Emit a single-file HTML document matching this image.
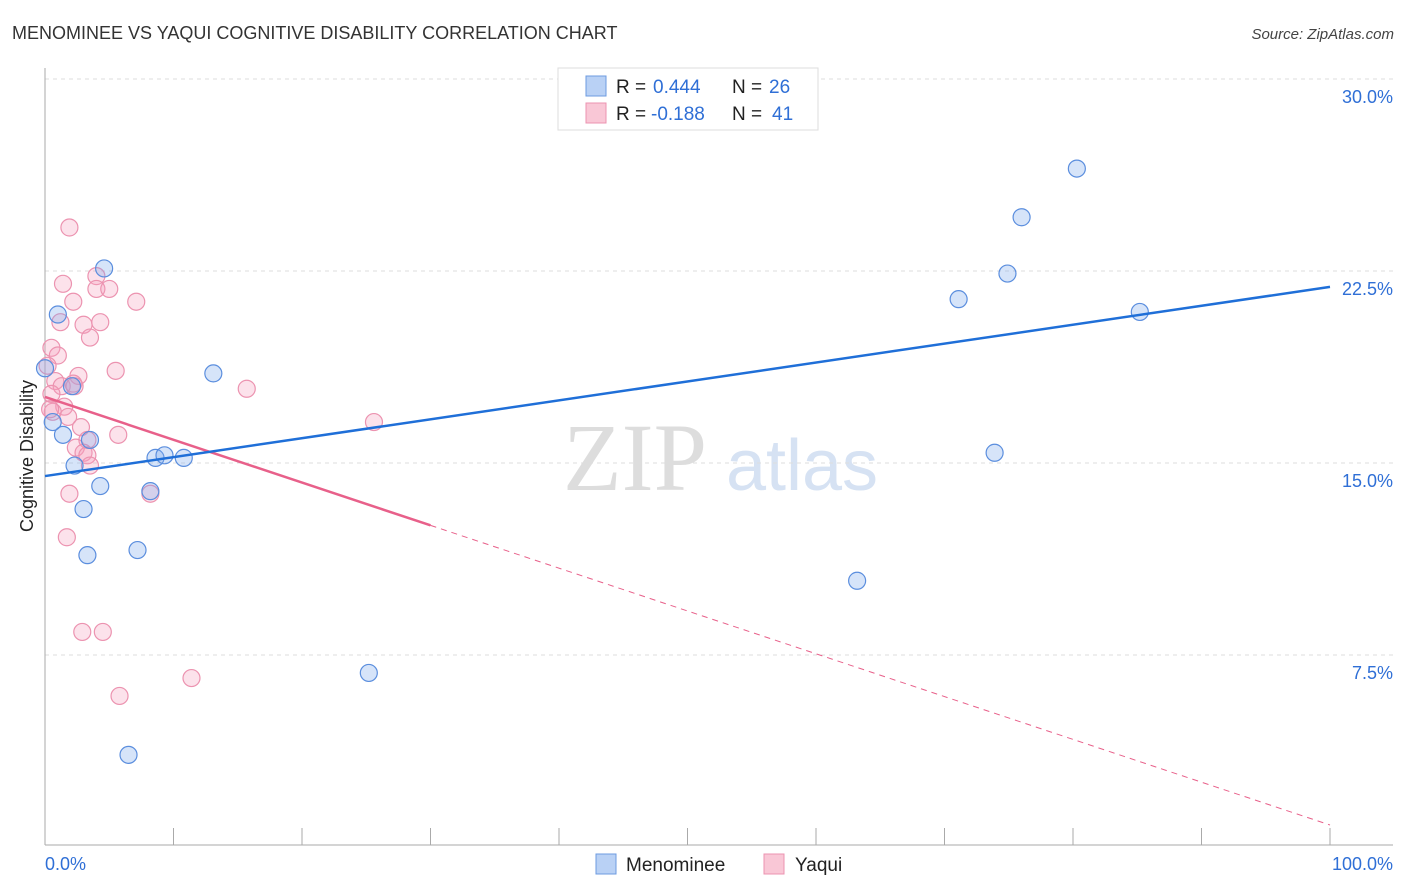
<!DOCTYPE html>
<html><head><meta charset="utf-8"><style>
body{margin:0;background:#fff;font-family:"Liberation Sans",sans-serif;}
svg{display:block}
</style></head><body>
<svg id="c" width="1406" height="892" xmlns="http://www.w3.org/2000/svg">
<text x="12" y="39" font-size="18" fill="#333">MENOMINEE VS YAQUI COGNITIVE DISABILITY CORRELATION CHART</text>
<text x="1394" y="39" font-size="15" fill="#444" font-style="italic" text-anchor="end">Source: ZipAtlas.com</text>
<text x="33" y="456" font-size="18" fill="#222" text-anchor="middle" transform="rotate(-90 33 456)">Cognitive Disability</text>
<g><text x="635" y="490" font-size="96" fill="#ddd" text-anchor="middle" font-family="Liberation Serif,serif">ZIP</text><text x="802" y="490" font-size="72" fill="#d6e2f3" text-anchor="middle">atlas</text></g>
<g id="grid"></g><g id="axes"></g><g id="marks"></g>
<g>
<rect x="558" y="68" width="260" height="62" fill="#fff" stroke="#ddd"/>
<rect x="586" y="76" width="20" height="20" fill="#b9d1f5" stroke="#6d9be0"/>
<rect x="586" y="103" width="20" height="20" fill="#f9c7d6" stroke="#ec93b0"/>
<text x="616" y="93" font-size="19" fill="#222">R =</text><text x="653" y="93" font-size="19" fill="#2f6fd6">0.444</text>
<text x="732" y="93" font-size="19" fill="#222">N =</text><text x="769" y="93" font-size="19" fill="#2f6fd6">26</text>
<text x="616" y="120" font-size="19" fill="#222">R =</text><text x="651" y="120" font-size="19" fill="#2f6fd6">-0.188</text>
<text x="732" y="120" font-size="19" fill="#222">N =</text><text x="772" y="120" font-size="19" fill="#2f6fd6">41</text>
</g>
<g>
<rect x="596" y="854" width="20" height="20" fill="#b9d1f5" stroke="#6d9be0"/>
<text x="626" y="871" font-size="19" fill="#222">Menominee</text>
<rect x="764" y="854" width="20" height="20" fill="#f9c7d6" stroke="#ec93b0"/>
<text x="795" y="871" font-size="19" fill="#222">Yaqui</text>
</g>
</svg>
<script>
const blueX=[4.6,1.0,0.0,2.1,0.6,1.4,3.5,2.3,4.3,3.0,3.3,7.2,8.6,9.3,10.8,8.2,13.1,6.5,25.2,63.2,71.1,73.9,74.9,76.0,80.3,85.2];
const blueY=[22.6,20.8,18.7,18.0,16.6,16.1,15.9,14.9,14.1,13.2,11.4,11.6,15.2,15.3,15.2,13.9,18.5,3.6,6.8,10.4,21.4,15.4,22.4,24.6,26.5,20.9];
const pinkX=[1.9,1.4,4.0,2.2,4.0,5.0,7.1,1.2,3.0,4.3,3.5,0.5,1.0,5.5,15.7,2.6,0.8,1.3,2.2,0.5,1.5,0.6,1.8,2.8,5.7,25.6,3.3,2.4,3.0,3.3,3.5,1.9,8.2,1.7,2.9,4.5,11.4,5.8,0.2,0.4,2.3];
const pinkY=[24.2,22.0,22.3,21.3,21.8,21.8,21.3,20.5,20.4,20.5,19.9,19.5,19.2,18.6,17.9,18.4,18.2,18.0,18.1,17.7,17.2,17.0,16.8,16.4,16.1,16.6,15.9,15.6,15.4,15.3,14.9,13.8,13.8,12.1,8.4,8.4,6.6,5.9,18.8,17.1,18.0];
const yTicks=[7.5,15.0,22.5,30.0];
const blueTrend=[14.49,21.88];
const pinkTrend=[17.58,0.86];
const pinkSolidEnd=30;
const NS='http://www.w3.org/2000/svg';
const X=v=>45+v*12.85, Y=v=>847-v*25.6;
function mk(p,t,a){const e=document.createElementNS(NS,t);for(const k in a)e.setAttribute(k,a[k]);document.getElementById(p).appendChild(e);return e;}
yTicks.forEach(t=>{
 const l=mk('grid','line',{x1:45,x2:1393,y1:Y(t),y2:Y(t),stroke:'#ddd','stroke-dasharray':'4 4'});
 
 
 const tx=mk('grid','text',{x:1393,y:Y(t)+24,'font-size':18,fill:'#2f6fd6','text-anchor':'end'});
 tx.textContent=t.toFixed(1)+'%';
 
 
});
const ax=mk('axes','line',{x1:45,x2:1393,y1:845,y2:845,stroke:'#aaa'});


const ay=mk('axes','line',{x1:45,x2:45,y1:68,y2:845,stroke:'#aaa'});


for(let i=0;i<=10;i++){const t=mk('axes','line',{x1:X(i*10),x2:X(i*10),y1:828,y2:845,stroke:'#aaa'});
 
 }
const l0=mk('axes','text',{x:45,y:870,'font-size':18,fill:'#2f6fd6'});l0.textContent='0.0%';


const l1=mk('axes','text',{x:1393,y:870,'font-size':18,fill:'#2f6fd6','text-anchor':'end'});l1.textContent='100.0%';


pinkX.forEach((x,i)=>{const c=mk('marks','circle',{cx:X(x),cy:Y(pinkY[i]),r:8.5,fill:'rgba(244,160,190,0.3)',stroke:'#ec93b0','stroke-width':1.2});
 
 });
blueX.forEach((x,i)=>{const c=mk('marks','circle',{cx:X(x),cy:Y(blueY[i]),r:8.5,fill:'rgba(120,165,235,0.3)',stroke:'#5b8ede','stroke-width':1.2});
 
 });
const py=x=>pinkTrend[0]+(pinkTrend[1]-pinkTrend[0])*x/100;
const pd=mk('marks','line',{x1:X(pinkSolidEnd),y1:Y(py(pinkSolidEnd)),x2:X(100),y2:Y(pinkTrend[1]),stroke:'#e8608a','stroke-width':1,'stroke-dasharray':'6 5'});


const ps=mk('marks','line',{x1:X(0),y1:Y(pinkTrend[0]),x2:X(pinkSolidEnd),y2:Y(py(pinkSolidEnd)),stroke:'#e8608a','stroke-width':2.5});


const bl=mk('marks','line',{x1:X(0),y1:Y(blueTrend[0]),x2:X(100),y2:Y(blueTrend[1]),stroke:'#1f6fd8','stroke-width':2.5});


</script>
</body></html>
